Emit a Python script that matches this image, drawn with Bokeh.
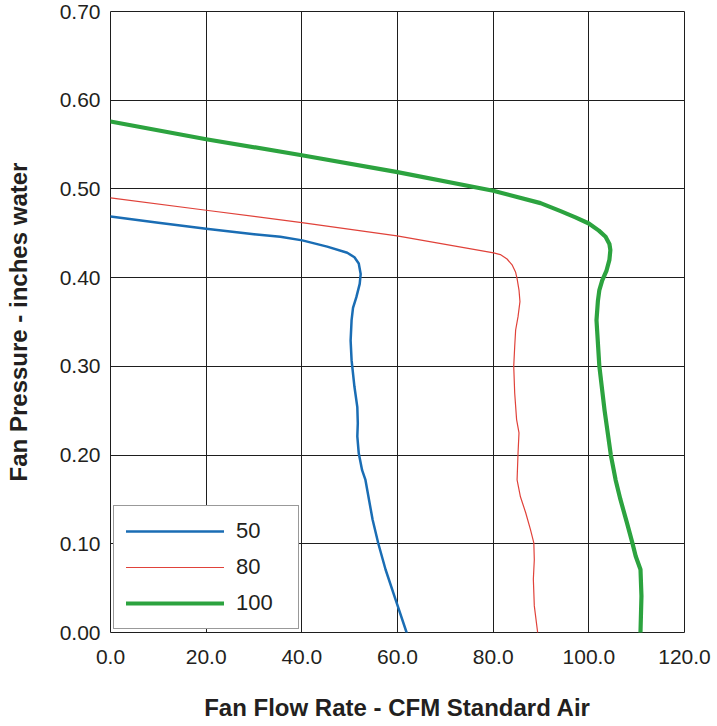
from bokeh.plotting import figure
from bokeh.models import FixedTicker, NumeralTickFormatter, Legend, LegendItem, Range1d
from bokeh.embed import file_html
from bokeh.resources import INLINE

# ---- data ----
x_ticks = [0, 20, 40, 60, 80, 100, 120]
y_ticks = [0.0, 0.1, 0.2, 0.3, 0.4, 0.5, 0.6, 0.7]

series_labels = ["50", "80", "100"]

flow_50 = [0, 10, 20, 30, 35.5, 40.1, 45.3, 49.5, 51.0, 51.9, 52.3, 52.1, 51.4, 50.7,
           50.4, 50.2, 50.4, 51.0, 51.6, 51.7, 51.6, 51.9, 52.6, 53.3, 54.8, 56.0,
           57.5, 59.6, 61.9]
press_50 = [0.469, 0.462, 0.455, 0.449, 0.446, 0.442, 0.435, 0.428, 0.423, 0.416,
            0.404, 0.393, 0.378, 0.366, 0.352, 0.329, 0.307, 0.277, 0.254, 0.236,
            0.221, 0.202, 0.183, 0.172, 0.127, 0.100, 0.071, 0.037, 0.0]

flow_80 = [0, 20, 40, 59.9, 80.1, 81.5, 82.9, 84.0, 84.7, 85.0, 85.4, 85.6, 85.2,
           84.7, 84.5, 84.3, 84.5, 84.9, 85.4, 85.2, 85.0, 85.7, 86.8, 87.8, 88.5,
           88.6, 88.4, 88.6, 89.3]
press_80 = [0.490, 0.476, 0.462, 0.447, 0.428, 0.426, 0.421, 0.414, 0.406, 0.399,
            0.386, 0.373, 0.356, 0.341, 0.322, 0.300, 0.270, 0.240, 0.225, 0.202,
            0.172, 0.153, 0.135, 0.116, 0.101, 0.082, 0.060, 0.030, 0.0]

flow_100 = [0, 20, 40, 60, 80, 89.9, 94.1, 97.2, 100.0, 102.1, 103.5, 104.3, 104.5,
            104.3, 103.7, 102.8, 102.2, 101.9, 101.6, 102.2, 103.3, 104.6, 105.6,
            106.6, 108.0, 109.1, 109.8, 110.8, 111.0, 110.8]
press_100 = [0.576, 0.556, 0.538, 0.519, 0.498, 0.484, 0.475, 0.468, 0.461, 0.453,
             0.446, 0.438, 0.431, 0.420, 0.408, 0.397, 0.386, 0.374, 0.352, 0.300,
             0.250, 0.200, 0.172, 0.150, 0.123, 0.101, 0.086, 0.071, 0.041, 0.0]

colors = ["#1a6db4", "#e0423a", "#2ca33f"]
widths = [2.5, 1.2, 4.2]

FONT = "Liberation Sans"
TXT = "#231f20"
GRID = "#1e1e1e"

p = figure(width=714, height=724, output_backend="svg", toolbar_location=None,
           x_range=Range1d(0, 120), y_range=Range1d(0, 0.7),
           min_border_left=110, min_border_right=30, min_border_top=11,
           min_border_bottom=92)
p.background_fill_color = "white"
p.border_fill_color = "white"
p.outline_line_color = GRID
p.outline_line_width = 1
p.outline_line_alpha = 1.0

renderers = []
for fx, py, c, w in zip([flow_50, flow_80, flow_100], [press_50, press_80, press_100], colors, widths):
    r = p.line(fx, py, line_color=c, line_width=w, line_join="round", line_cap="round")
    renderers.append(r)

# axes
p.xaxis.ticker = FixedTicker(ticks=x_ticks)
p.yaxis.ticker = FixedTicker(ticks=y_ticks)
p.xgrid.ticker = FixedTicker(ticks=x_ticks)
p.ygrid.ticker = FixedTicker(ticks=y_ticks)
p.xaxis.formatter = NumeralTickFormatter(format="0.0")
p.yaxis.formatter = NumeralTickFormatter(format="0.00")
for ax in (p.xaxis, p.yaxis):
    ax.axis_line_color = None
    ax.major_tick_line_color = None
    ax.minor_tick_line_color = None
    ax.major_tick_out = 0
    ax.major_tick_in = 0
    ax.major_label_text_font = FONT
    ax.major_label_text_font_size = "21px"
    ax.major_label_text_color = TXT
    ax.axis_label_text_font = FONT
    ax.axis_label_text_font_style = "bold"
    ax.axis_label_text_font_size = "24px"
    ax.axis_label_text_color = TXT

p.xaxis.axis_label = "Fan Flow Rate - CFM Standard Air"
p.yaxis.axis_label = "Fan Pressure - inches water"
p.xaxis.major_label_standoff = 17
p.xaxis.axis_label_standoff = 27
p.yaxis.major_label_standoff = 10
p.yaxis.axis_label_standoff = 25

for g in (p.xgrid, p.ygrid):
    g.grid_line_color = GRID
    g.grid_line_width = 1
    g.grid_line_alpha = 1.0

legend = Legend(items=[LegendItem(label=lab, renderers=[r]) for lab, r in zip(series_labels, renderers)],
                location="bottom_left", margin=3, padding=12, spacing=10,
                glyph_width=98, glyph_height=26, label_height=26, label_width=50,
                label_standoff=12, label_text_font=FONT, label_text_font_size="22px",
                label_text_color=TXT, border_line_color="#333333", border_line_width=1,
                background_fill_color="white", background_fill_alpha=1.0)
p.add_layout(legend)

open("out.html", "w").write(file_html(p, INLINE))
